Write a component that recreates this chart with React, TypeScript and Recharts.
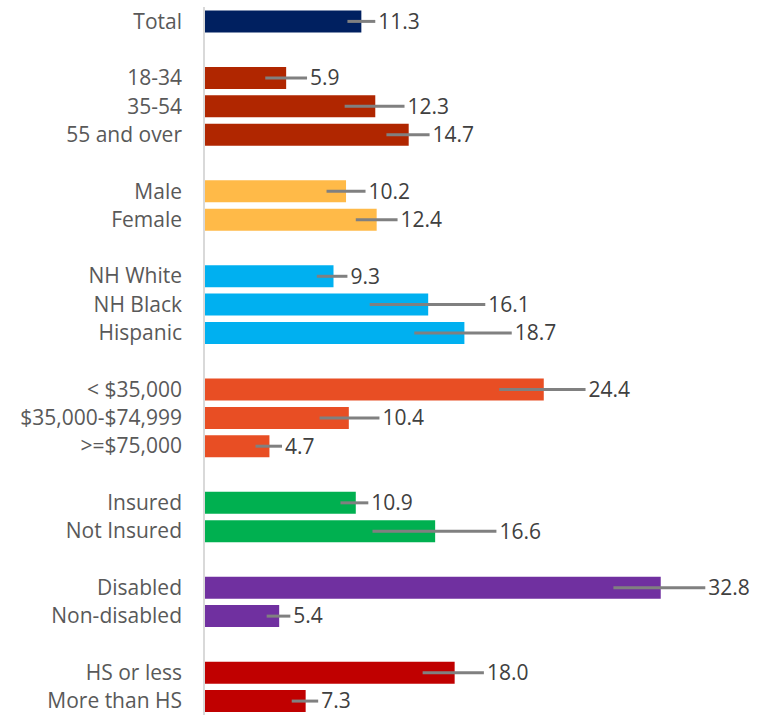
import React from 'react';
import { BarChart, Bar, XAxis, YAxis, ErrorBar, Cell, LabelList } from 'recharts';

// rows top to bottom; empty strings are the blank spacer rows between groups
const categories = [
  'Total', '',
  '18-34', '35-54', '55 and over', '',
  'Male', 'Female', '',
  'NH White', 'NH Black', 'Hispanic', '',
  '< $35,000', '$35,000-$74,999', '>=$75,000 ', '',
  'Insured', 'Not Insured', '',
  'Disabled', 'Non-disabled', '',
  'HS or less', 'More than HS',
];

const values = [
  11.3, null,
  5.9, 12.3, 14.7, null,
  10.2, 12.4, null,
  9.3, 16.1, 18.7, null,
  24.4, 10.4, 4.7, null,
  10.9, 16.6, null,
  32.8, 5.4, null,
  18.0, 7.3,
];

const ciLow = [
  10.3, null,
  4.4, 10.1, 13.1, null,
  8.8, 10.9, null,
  8.1, 11.9, 15.1, null,
  21.2, 8.3, 3.7, null,
  9.8, 12.1, null,
  29.4, 4.5, null,
  15.7, 6.3,
];

const ciHigh = [
  12.3, null,
  7.4, 14.4, 16.2, null,
  11.6, 13.9, null,
  10.3, 20.2, 22.1, null,
  27.4, 12.6, 5.6, null,
  11.8, 21.0, null,
  36.0, 6.2, null,
  20.1, 8.2,
];

const groupColors = [
  '#002060', null,
  '#B02600', '#B02600', '#B02600', null,
  '#FFBA48', '#FFBA48', null,
  '#00B0F0', '#00B0F0', '#00B0F0', null,
  '#E84E24', '#E84E24', '#E84E24', null,
  '#00B050', '#00B050', null,
  '#7030A0', '#7030A0', null,
  '#C00000', '#C00000',
];

const data = categories.map((name, i) => ({
  id: `r${i}`,
  name,
  value: values[i],
  err: values[i] == null ? null : [values[i]! - ciLow[i]!, ciHigh[i]! - values[i]!],
  hi: ciHigh[i],
}));

const FONT = '"Open Sans", Calibri, sans-serif';

function ValueLabel(props: any) {
  const { x, y, width, height, value } = props;
  const row = data.find((d) => d.id === value);
  if (!row || row.value == null) return null;
  // end of the error bar, in px, using the bar's own scale
  const endX = x + (width * (row.hi as number)) / row.value;
  return (
    <text
      x={endX + 3}
      y={y + height / 2}
      dy="0.35em"
      fill="#404040"
      fontSize={21}
      fontFamily={FONT}
    >
      {row.value.toFixed(1)}
    </text>
  );
}

export default function App() {
  return (
    <div style={{ position: 'absolute', left: 0, top: 0, background: '#fff' }}>
      <BarChart
        width={766}
        height={715}
        data={data}
        layout="vertical"
        margin={{ top: 7, right: 5, bottom: 0, left: 0 }}
        barCategoryGap="12%"
      >
        <XAxis type="number" domain={[0, 40]} hide />
        <YAxis
          type="category"
          dataKey="id"
          width={204}
          interval={0}
          tickLine={false}
          tickSize={0}
          tickMargin={22}
          axisLine={{ stroke: '#D9D9D9', strokeWidth: 2 }}
          tickFormatter={(id: string) => data.find((d) => d.id === id)?.name ?? ''}
          tick={{ fill: '#595959', fontSize: 21, fontFamily: FONT }}
        />
        <Bar dataKey="value" isAnimationActive={false}>
          {data.map((d, i) => (
            <Cell key={d.id} fill={groupColors[i] ?? 'transparent'} />
          ))}
          <ErrorBar dataKey="err" direction="x" width={0} stroke="#808080" strokeWidth={3} />
          <LabelList dataKey="id" content={ValueLabel} />
        </Bar>
      </BarChart>
    </div>
  );
}
